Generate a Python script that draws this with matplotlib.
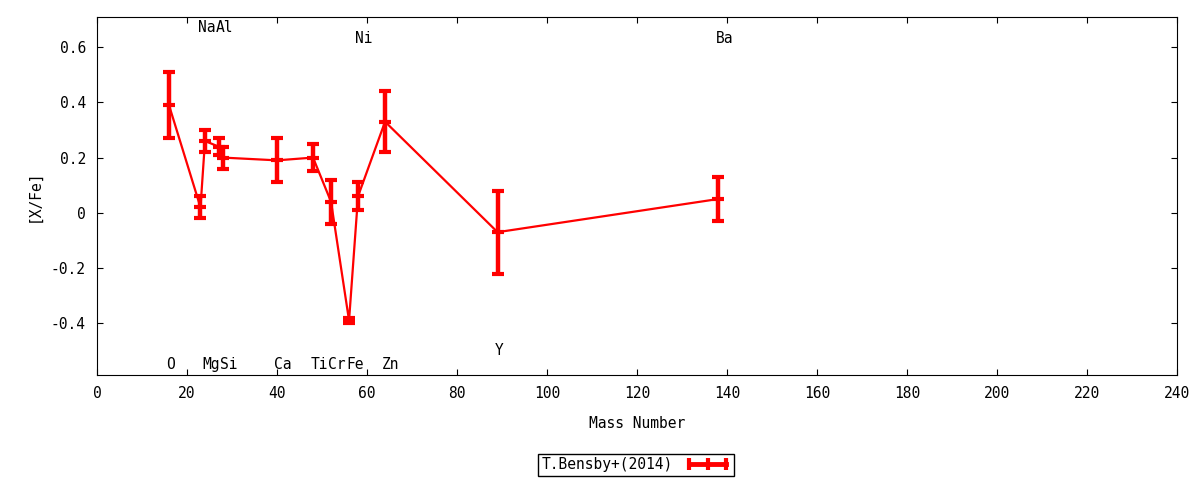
import matplotlib
matplotlib.use('Agg')
import matplotlib.pyplot as plt
from matplotlib.lines import Line2D

# 원소별 [X/Fe] (T.Bensby+ 2014)
elements = ['O', 'Na', 'Mg', 'Al', 'Si', 'Ca', 'Ti', 'Cr', 'Fe', 'Ni', 'Zn', 'Y', 'Ba']
mass = [16, 23, 24, 27, 28, 40, 48, 52, 56, 58, 64, 89, 138]
xfe = [0.39, 0.02, 0.26, 0.24, 0.20, 0.19, 0.20, 0.04, -0.39, 0.06, 0.33, -0.07, 0.05]
err = [0.12, 0.04, 0.04, 0.03, 0.04, 0.08, 0.05, 0.08, 0.01, 0.05, 0.11, 0.15, 0.08]

# 원소 이름 표시 높이
label_y = [-0.55, 0.67, -0.55, 0.67, -0.55, -0.55, -0.55, -0.55, -0.55, 0.63, -0.55, -0.50, 0.63]

plt.rcParams['font.family'] = ['DejaVu Sans Mono']
plt.rcParams['font.size'] = 10

fig = plt.figure(figsize=(12, 4.8), dpi=100)
ax = fig.add_axes([0.0808, 0.2188, 0.9003, 0.7458])

ax.errorbar(mass, xfe, yerr=err, color='#ff0000', lw=1.6, elinewidth=3.2,
            capsize=4, capthick=3, marker='_', markersize=9, mew=3)

for name, m, ly in zip(elements, mass, label_y):
    ax.text(m - 0.6, ly, name, ha='left', va='center', fontsize=10.5)

ax.set_xlim(0, 240)
ax.set_ylim(-0.587, 0.709)
ax.set_xticks(range(0, 241, 20))
ax.set_yticks([-0.4, -0.2, 0, 0.2, 0.4, 0.6])
ax.set_yticklabels(['-0.4', '-0.2', '0', '0.2', '0.4', '0.6'])
ax.tick_params(direction='in', top=True, right=True, length=4, labelsize=10.5, pad=8)

ax.set_xlabel('Mass Number', fontsize=10.5, labelpad=11)
ax.set_ylabel('[X/Fe]', fontsize=10.5, labelpad=7)

# 범례: 가로 오차막대 모양
proxy = Line2D([], [], color='#ff0000', lw=3.5, marker='|', markersize=8, mew=3)
leg = ax.legend([proxy], ['T.Bensby+(2014)'], loc='center',
                bbox_to_anchor=(0.499, -0.251), markerfirst=False, numpoints=3,
                fancybox=False, framealpha=1, edgecolor='black', fontsize=10.5,
                borderpad=0.25, handlelength=3.2)
leg.get_frame().set_linewidth(1)

fig.savefig('out.png', dpi=100)
